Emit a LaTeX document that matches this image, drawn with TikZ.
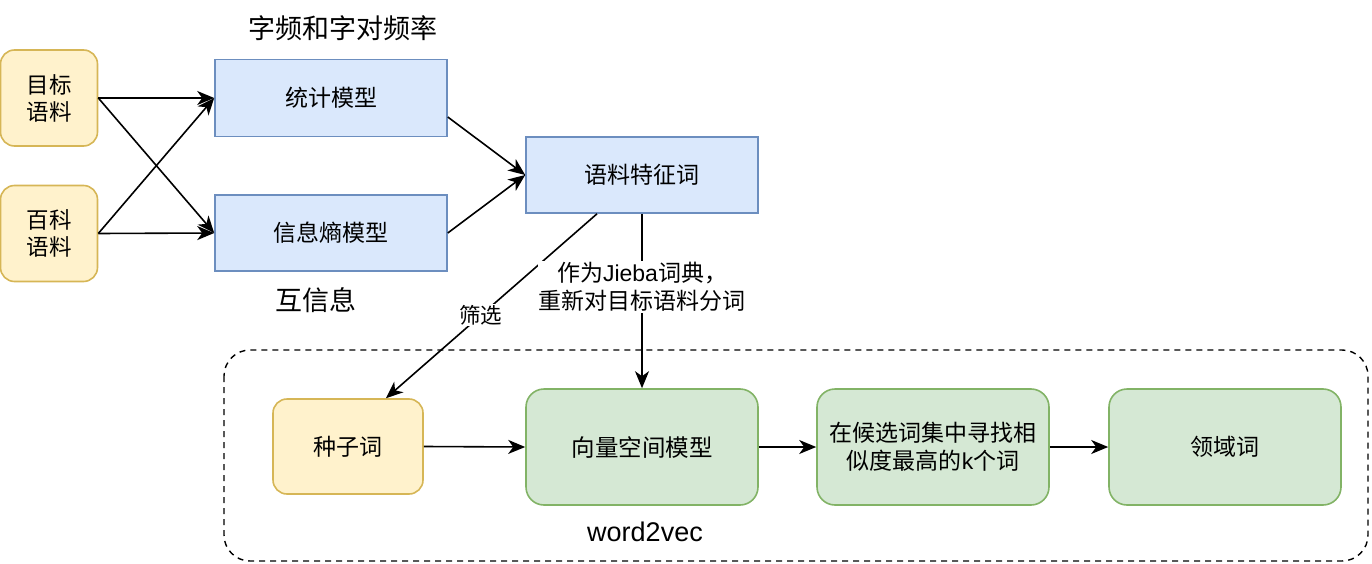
\documentclass[tikz,border=0pt]{standalone}
\usepackage{fontspec}
\setmainfont{Noto Sans CJK SC}
\newfontfamily\lat{Liberation Sans}
\usetikzlibrary{arrows.meta}
\definecolor{yfill}{HTML}{FFF2CC}
\definecolor{ydraw}{HTML}{D6B656}
\definecolor{bfill}{HTML}{DAE8FC}
\definecolor{bdraw}{HTML}{6C8EBF}
\definecolor{gfill}{HTML}{D5E8D4}
\definecolor{gdraw}{HTML}{82B366}
\tikzset{
  ybox/.style={draw=ydraw, fill=yfill, line width=1.6pt, rounded corners=14pt, align=center, font=\fontsize{22.5}{27}\selectfont, inner sep=0pt},
  bbox/.style={draw=bdraw, fill=bfill, line width=1.6pt, align=center, font=\fontsize{23}{28}\selectfont, inner sep=0pt},
  gbox/.style={draw=gdraw, fill=gfill, line width=1.6pt, rounded corners=18pt, align=center, font=\fontsize{23}{28}\selectfont, inner sep=0pt},
  conn/.style={line width=1.6pt, -{Stealth[length=17pt,width=14pt,inset=5pt]}},
  lbl/.style={font=\fontsize{27}{32}\selectfont, inner sep=0pt},
  elbl/.style={fill=white, align=center, inner sep=1pt},
}
\begin{document}
\begin{tikzpicture}[x=1pt,y=-1pt]
\useasboundingbox (0,0) rectangle (1372,564);
% dashed container
\draw[line width=1.4pt, dash pattern=on 6pt off 5pt, rounded corners=26pt] (224,350) rectangle (1368,561);
% boxes
\node[ybox, minimum width=97pt, minimum height=96pt] (mb) at (49,98) {目标\\语料};
\node[ybox, minimum width=97pt, minimum height=96pt] (bk) at (49,233.5) {百科\\语料};
\node[bbox, minimum width=232pt, minimum height=77pt] (tj) at (331,98) {统计模型};
\node[bbox, minimum width=232pt, minimum height=76pt] (xx) at (331,233) {信息熵模型};
\node[bbox, minimum width=232pt, minimum height=76pt] (tz) at (642,175) {语料特征词};
\node[ybox, minimum width=150pt, minimum height=95pt, font=\fontsize{23}{28}\selectfont] (zz) at (348,446.5) {种子词};
\node[gbox, minimum width=232pt, minimum height=116pt, font=\fontsize{23.5}{28}\selectfont] (xl) at (642,447) {向量空间模型};
\node[gbox, minimum width=232pt, minimum height=116pt] (zx) at (933,447) {在候选词集中寻找相\\似度最高的{\lat k}个词};
\node[gbox, minimum width=232pt, minimum height=116pt] (ly) at (1225,447) {领域词};
% labels
\node[lbl] (l1) at (343,28) {字频和字对频率};
\node[lbl] (l2) at (316,300) {互信息};
\node[lbl, font=\lat\fontsize{27}{32}\selectfont] (l3) at (645,532) {word2vec};
% connectors
\draw[conn] (mb.east) -- (tj.west);
\draw[conn] (mb.east) -- (xx.west);
\draw[conn] (bk.east) -- (tj.west);
\draw[conn] (bk.east) -- (xx.west);
\draw[conn] (tj.east |- 0,117) -- (tz.west);
\draw[conn] (xx.east) -- (tz.west);
\draw[conn] (tz.south -| 597,0) -- node[elbl, pos=0.55, font=\fontsize{21.5}{24}\selectfont] {筛选} (zz.north -| 386,0);
\draw[conn] (tz.south) -- node[elbl, pos=0.42, font=\fontsize{23}{28}\selectfont] {作为{\lat Jieba}词典，\\重新对目标语料分词} (xl.north);
\draw[conn] (zz.east) -- (xl.west);
\draw[conn] (xl.east) -- (zx.west);
\draw[conn] (zx.east) -- (ly.west);
\end{tikzpicture}
\end{document}
